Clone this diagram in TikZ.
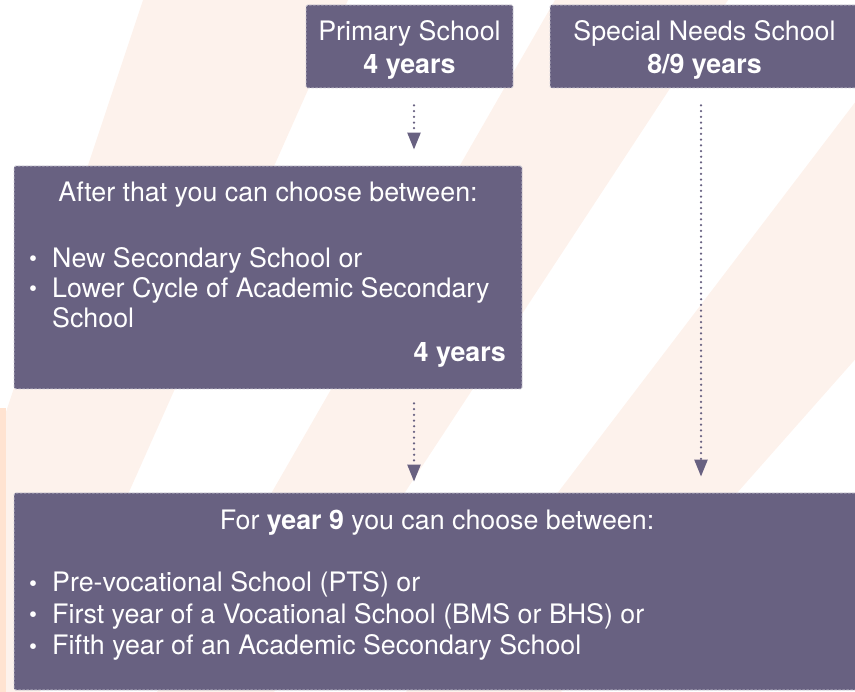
\documentclass[tikz,border=0pt]{standalone}
\usepackage{fontspec}
\setmainfont{TeX Gyre Heros}
\usepackage{graphicx}
\usetikzlibrary{arrows.meta}

\definecolor{boxpurple}{HTML}{686181}
\definecolor{stripe}{HTML}{FDF2EC}
\definecolor{edgepeach}{HTML}{FFE3D1}

\def\firststripe{(143,0) -- (348,0) -- (40,692) -- (0,692) -- (0,430) -- cycle}
\def\secondstripe{(555,0) -- (728,0) -- (274,692) -- (157,692) -- cycle}
\def\thirdstripe{(933,0) -- (1173,0) -- (561,692) -- (406,692) -- cycle}
\newcommand{\bul}{\makebox[23pt][l]{\raisebox{1pt}{\scalebox{0.85}{\textbullet}}}}

\begin{document}
\begin{tikzpicture}[x=1pt,y=-1pt,
    box/.style={fill=boxpurple, draw=boxpurple!30!white, dash pattern=on 2.5pt off 1.5pt,
        line width=0.9pt, rounded corners=1.5pt, inner sep=0pt},
    txt/.style={text=white, inner sep=0pt, font=\fontsize{26.8}{33}\selectfont},
    flow/.style={boxpurple, line width=2.5pt, dash pattern=on 0pt off 5.7pt, line cap=round,
        -{Triangle[width=13pt,length=17pt]}}]
    \useasboundingbox (0,0) rectangle (855,692);

    %% Background stripes
    \fill[stripe] \firststripe;
    \fill[stripe] \secondstripe;
    \fill[stripe] \thirdstripe;
    \fill[edgepeach] (0,408) rectangle (6,692);

    %% The boxes
    \node[box, minimum width=207pt, minimum height=83pt] (primary) at (409.5,46.5) {};
    \node[box, minimum width=310pt, minimum height=83pt] (special) at (705,46.5) {};
    \node[box, minimum width=508pt, minimum height=223pt] (after) at (268,277.5) {};
    \node[box, minimum width=846pt, minimum height=197pt] (year9) at (437,591.5) {};

    %% Texts in the boxes (base = baseline of the last line)
    \node[txt, align=center, anchor=base] (primarytext) at (409.5,74) {Primary School\\\textbf{4 years}};
    \node[txt, align=center, anchor=base] (specialtext) at (704.5,74) {Special Needs School\\\textbf{8/9 years}};
    \node[txt, anchor=base] (aftertitle) at (268,202) {After that you can choose between:};
    \node[txt, align=left, anchor=base west, font=\fontsize{26.8}{30}\selectfont] (afterlist) at (29,328)
        {\bul New Secondary School or\\\bul Lower Cycle of Academic Secondary\\\hspace*{23pt}School};
    \node[txt, anchor=base east] (afteryears) at (506,362) {\textbf{4 years}};
    \node[txt, anchor=base] (year9title) at (437,530) {For \textbf{year 9} you can choose between:};
    \node[txt, align=left, anchor=base west, font=\fontsize{26.8}{31.5}\selectfont] (year9list) at (29,655)
        {\bul Pre-vocational School (PTS) or\\\bul First year of a Vocational School (BMS or BHS) or\\\bul Fifth year of an Academic Secondary School};

    %% Arrows
    \draw[flow] ([shift={(4.5,17)}]primary.south) -- ([shift={(146,-16)}]after.north);
    \draw[flow] ([shift={(146,14)}]after.south) -- ([shift={(-23,-11)}]year9.north);
    \draw[flow] ([shift={(-4,17)}]special.south) -- ([shift={(264,-16)}]year9.north);
\end{tikzpicture}
\end{document}
